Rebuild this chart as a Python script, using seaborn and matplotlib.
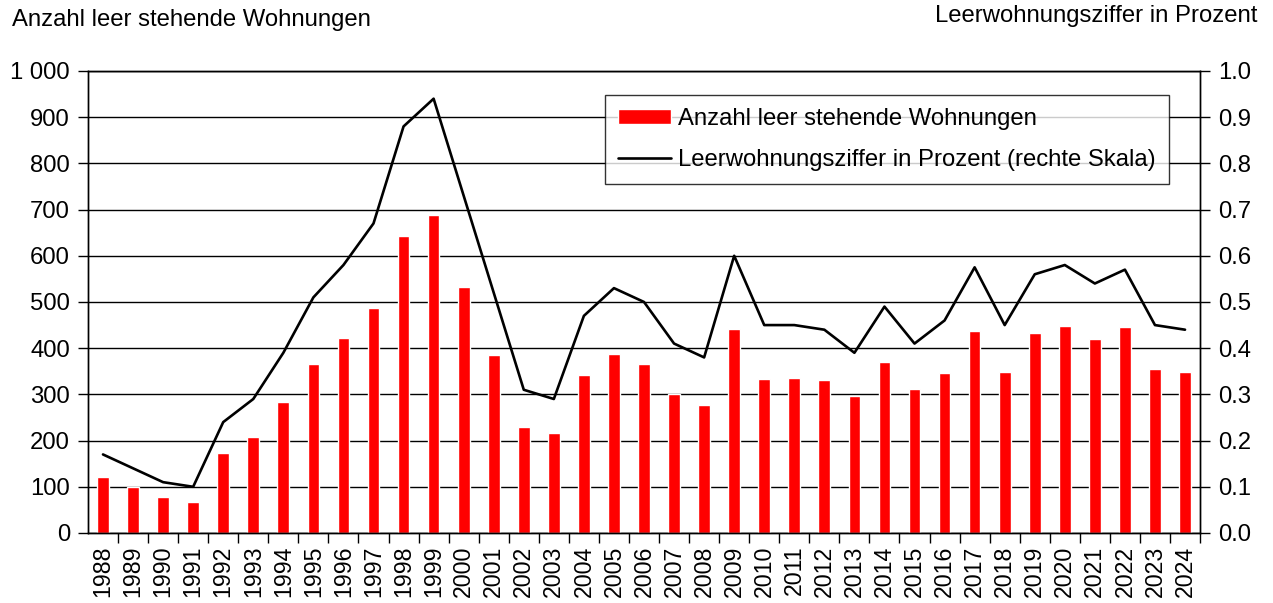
import numpy as np
import pandas as pd
import matplotlib
matplotlib.use("Agg")
import matplotlib.pyplot as plt
import matplotlib.ticker as ticker
import seaborn as sns

# data
years = [str(y) for y in range(1988, 2025)]
anzahl = [121, 100, 78, 68, 173, 208, 283, 365, 421, 486, 643, 688, 532,
          386, 229, 216, 342, 387, 365, 301, 276, 442, 334, 336, 332, 296,
          371, 312, 346, 438, 348, 433, 448, 419, 446, 354, 348]
ziffer = [0.17, 0.14, 0.11, 0.10, 0.24, 0.29, 0.39, 0.51, 0.58, 0.67, 0.88,
          0.94, 0.73, 0.52, 0.31, 0.29, 0.47, 0.53, 0.50, 0.41, 0.38, 0.60,
          0.45, 0.45, 0.44, 0.39, 0.49, 0.41, 0.46, 0.575, 0.45, 0.56, 0.58,
          0.54, 0.57, 0.45, 0.44]

df = pd.DataFrame({"Jahr": years, "Anzahl": anzahl, "Ziffer": ziffer,
                   "pos": np.arange(len(years))})

FS = 17.2

sns.set_theme(style="white")
plt.rcParams["font.family"] = ["Liberation Sans", "DejaVu Sans"]
plt.rcParams["font.size"] = FS
plt.rcParams["text.color"] = "black"
plt.rcParams["xtick.color"] = "black"
plt.rcParams["ytick.color"] = "black"

fig = plt.figure(figsize=(12.73, 6.03), dpi=100)
ax = fig.add_axes([0.0691, 0.1161, 0.8736, 0.7662])

sns.barplot(data=df, x="Jahr", y="Anzahl", color="#ff0000", width=0.39,
            saturation=1, ax=ax, label="Anzahl leer stehende Wohnungen")
ax.set_ylim(0, 1000)
ax.set_xlim(-0.5, len(years) - 0.5)
ax.yaxis.set_major_locator(ticker.MultipleLocator(100))
ax.yaxis.set_major_formatter(ticker.FuncFormatter(
    lambda v, p: f"{int(v):,}".replace(",", " ")))
ax.grid(axis="y", color="black", linewidth=1)
ax.set_axisbelow(True)
ax.set_xlabel("")
ax.set_ylabel("")

# category ticks: labels centred, tick marks between bars
ax.set_xticks(df["pos"])
ax.set_xticklabels(years, rotation=90, fontsize=FS - 0.5)
ax.set_xticks(np.arange(len(years)) + 0.5, minor=True)
ax.tick_params(axis="x", which="major", length=0, pad=9)
ax.tick_params(axis="x", which="minor", length=7, width=1, color="black",
               direction="out", bottom=True)
ax.tick_params(axis="y", length=7, width=1, color="black", direction="out",
               left=True, labelsize=FS, pad=6)

ax2 = ax.twinx()
sns.lineplot(data=df, x="pos", y="Ziffer", color="black", linewidth=1.9,
             ax=ax2, label="Leerwohnungsziffer in Prozent (rechte Skala)")
ax2.set_ylim(0, 1.0)
ax2.yaxis.set_major_locator(ticker.MultipleLocator(0.1))
ax2.yaxis.set_major_formatter(ticker.FormatStrFormatter("%.1f"))
ax2.tick_params(axis="y", length=7, width=1, color="black", direction="out",
                right=True, labelsize=FS, pad=6)
ax2.set_ylabel("")
ax2.set_xlabel("")

for a in (ax, ax2):
    for s in a.spines.values():
        s.set_color("black")
        s.set_linewidth(1)

# combined legend
h1, l1 = ax.get_legend_handles_labels()
h2, l2 = ax2.get_legend_handles_labels()
ax.get_legend().remove()
ax2.get_legend().remove()
leg = ax2.legend(h1 + h2, l1 + l2, loc="upper left",
                 bbox_to_anchor=(0.465, 0.948), frameon=True, fancybox=False,
                 edgecolor="black", fontsize=FS, handlelength=2.2,
                 handleheight=0.62, handletextpad=0.3, labelspacing=0.78,
                 borderpad=0.55, borderaxespad=0)
leg.get_frame().set_linewidth(1)

fig.text(0.0094, 0.967, "Anzahl leer stehende Wohnungen", fontsize=FS,
         ha="left", va="center")
fig.text(0.988, 0.973, "Leerwohnungsziffer in Prozent", fontsize=FS,
         ha="right", va="center")

fig.savefig("out.png", dpi=100)
